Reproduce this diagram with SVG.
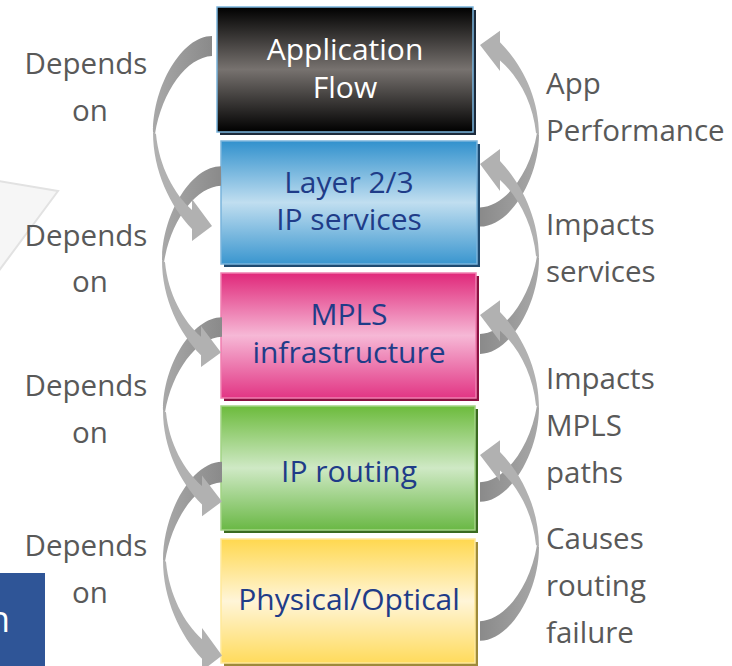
<svg xmlns="http://www.w3.org/2000/svg" width="732" height="666" viewBox="0 0 732 666">
<style>
.lbl{font-family:"Open Sans","Liberation Sans",sans-serif;font-size:29.5px;fill:#595959}
.bt{font-family:"Open Sans","Liberation Sans",sans-serif;font-size:30px;fill:#1f3c88;text-anchor:middle}
.wt{fill:#ffffff}
.tail{fill:url(#gTail)}
.front{fill:#b1b1b1}
</style>
<defs>
<linearGradient id="gBlack" x1="0" y1="0" x2="0" y2="1"><stop offset="0" stop-color="#000000"/><stop offset="0.5" stop-color="#77726f"/><stop offset="1" stop-color="#000000"/></linearGradient>
<linearGradient id="gBlue" x1="0" y1="0" x2="0" y2="1"><stop offset="0" stop-color="#3191cd"/><stop offset="0.5" stop-color="#c0def0"/><stop offset="1" stop-color="#3a96cf"/></linearGradient>
<linearGradient id="gPink" x1="0" y1="0" x2="0" y2="1"><stop offset="0" stop-color="#e0287a"/><stop offset="0.5" stop-color="#f6b8d6"/><stop offset="1" stop-color="#e23584"/></linearGradient>
<linearGradient id="gGreen" x1="0" y1="0" x2="0" y2="1"><stop offset="0" stop-color="#6cbb3c"/><stop offset="0.5" stop-color="#cfe9c5"/><stop offset="1" stop-color="#6ab845"/></linearGradient>
<linearGradient id="gYellow" x1="0" y1="0" x2="0" y2="1"><stop offset="0" stop-color="#ffd84f"/><stop offset="0.5" stop-color="#fff5d8"/><stop offset="1" stop-color="#ffdb5c"/></linearGradient>
<linearGradient id="gTail" x1="0" y1="0" x2="1" y2="0"><stop offset="0" stop-color="#a8a8a8"/><stop offset="1" stop-color="#8a8a8a"/></linearGradient>
<path id="tailShape" class="tail" d="M0,-10 C-30,-10 -59,40 -59,86 L-57,88 C-50,45 -25,11 0,10 Z"/>
<path id="frontShape" class="front" d="M-59,86 C-59,125 -42,160 -20,183 L-20,195 L0,180 L-20,153 L-20,164 C-38,148 -53,120 -56,88 Z"/>
</defs>

<rect width="732" height="666" fill="#ffffff"/>

<g id="background">
<polygon points="-2,181 58,191 -2,272" fill="#f6f6f6" stroke="#e2e2e2" stroke-width="2"/>
<rect x="0" y="573" width="45" height="93" fill="#2f5597"/>
<text x="-12" y="632" font-family="Open Sans, Liberation Sans, sans-serif" font-size="36" fill="#ffffff">n</text>
</g>

<g id="node-app">
<rect x="220" y="10" width="256" height="125" fill="#1c2a3a"/>
<rect x="217" y="7" width="256" height="125" fill="url(#gBlack)" stroke="#7ab4dc" stroke-width="1.5"/>
<text class="bt wt" x="345" y="60">Application</text>
<text class="bt wt" x="345" y="98">Flow</text>
</g>

<g id="node-l23">
<rect x="224" y="144" width="256" height="123" fill="#1f4a70"/>
<rect x="221" y="141" width="256" height="123" fill="url(#gBlue)" stroke="#7ab4dc" stroke-width="1.5"/>
<text class="bt" x="349" y="193">Layer 2/3</text>
<text class="bt" x="349" y="230">IP services</text>
</g>

<g id="node-mpls">
<rect x="224" y="276" width="255" height="125" fill="#8a1040"/>
<rect x="221" y="273" width="255" height="125" fill="url(#gPink)" stroke="#f07fb0" stroke-width="1.5"/>
<text class="bt" x="349" y="325">MPLS</text>
<text class="bt" x="349" y="363">infrastructure</text>
</g>

<g id="node-ip">
<rect x="224" y="409" width="254" height="124" fill="#3a6a20"/>
<rect x="221" y="406" width="254" height="124" fill="url(#gGreen)" stroke="#a3d485" stroke-width="1.5"/>
<text class="bt" x="349" y="482">IP routing</text>
</g>

<g id="node-phys">
<rect x="224" y="542" width="254" height="124" fill="#9e8a3a"/>
<rect x="221" y="539" width="254" height="124" fill="url(#gYellow)" stroke="#ffe99a" stroke-width="1.5"/>
<text class="bt" x="349" y="610">Physical/Optical</text>
</g>

<g id="connectors">
<use href="#tailShape" transform="translate(212,46)"/>
<use href="#tailShape" transform="translate(221,176) scale(1,0.98)"/>
<use href="#tailShape" transform="translate(222,327) scale(1,0.97)"/>
<use href="#tailShape" transform="translate(222,472) scale(1,1.02)"/>
<use href="#tailShape" transform="translate(480,217) rotate(180) scale(1,0.955)"/>
<use href="#tailShape" transform="translate(480,344) rotate(180) scale(1,1.0)"/>
<use href="#tailShape" transform="translate(480,492) rotate(180) scale(1,0.983)"/>
<use href="#tailShape" transform="translate(480,631) rotate(180) scale(1,0.978)"/>
<use href="#frontShape" transform="translate(212,46)"/>
<use href="#frontShape" transform="translate(221,176) scale(1,0.98)"/>
<use href="#frontShape" transform="translate(222,327) scale(1,0.97)"/>
<use href="#frontShape" transform="translate(222,472) scale(1,1.02)"/>
<use href="#frontShape" transform="translate(480,217) rotate(180) scale(1,0.955)"/>
<use href="#frontShape" transform="translate(480,344) rotate(180) scale(1,1.0)"/>
<use href="#frontShape" transform="translate(480,492) rotate(180) scale(1,0.983)"/>
<use href="#frontShape" transform="translate(480,631) rotate(180) scale(1,0.978)"/>
</g>

<g id="labels-left" text-anchor="middle">
<text class="lbl" x="86" y="74">Depends</text>
<text class="lbl" x="90" y="121">on</text>
<text class="lbl" x="86" y="246">Depends</text>
<text class="lbl" x="90" y="292">on</text>
<text class="lbl" x="86" y="396">Depends</text>
<text class="lbl" x="90" y="443">on</text>
<text class="lbl" x="86" y="556">Depends</text>
<text class="lbl" x="90" y="603">on</text>
</g>

<g id="labels-right">
<text class="lbl" x="546" y="94">App</text>
<text class="lbl" x="546" y="141">Performance</text>
<text class="lbl" x="546" y="235">Impacts</text>
<text class="lbl" x="546" y="282">services</text>
<text class="lbl" x="546" y="389">Impacts</text>
<text class="lbl" x="546" y="436">MPLS</text>
<text class="lbl" x="546" y="483">paths</text>
<text class="lbl" x="546" y="549">Causes</text>
<text class="lbl" x="546" y="596">routing</text>
<text class="lbl" x="546" y="643">failure</text>
</g>
</svg>
